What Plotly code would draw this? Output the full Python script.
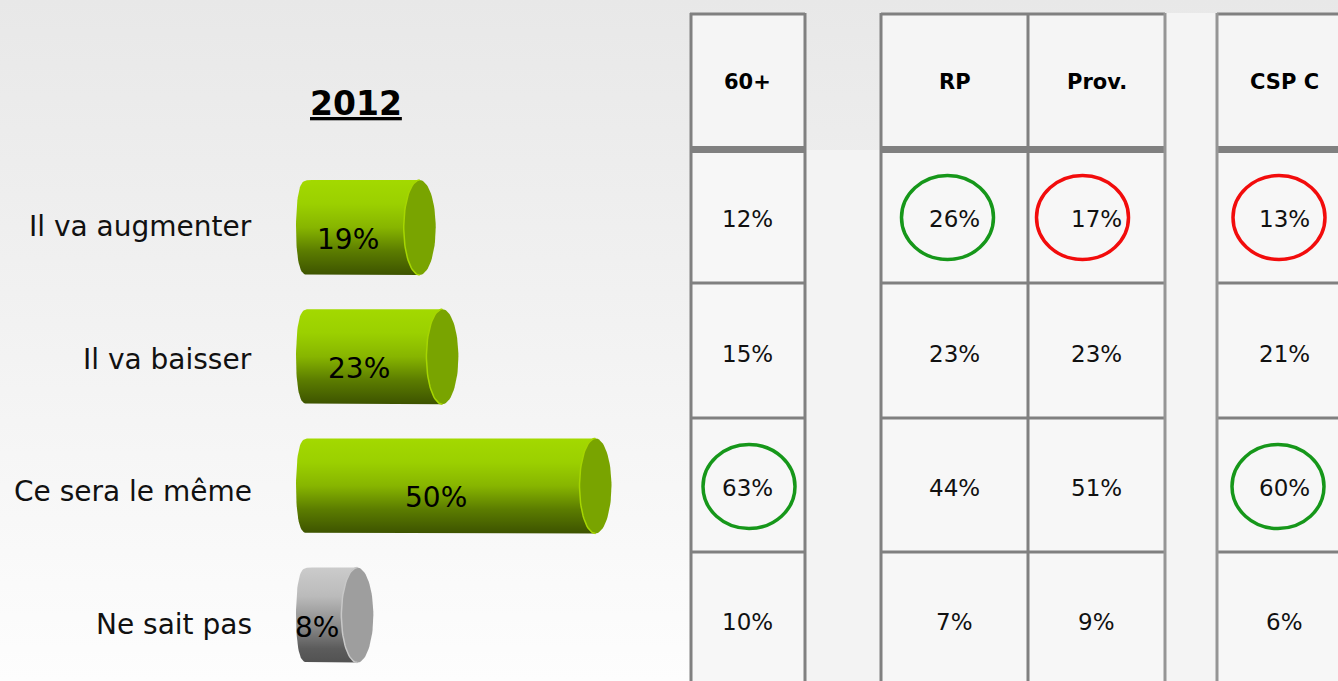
import numpy as np
import plotly.graph_objects as go

W, H = 1338, 681

# ---------------- data ----------------
title_text = "2012"
categories = ["Il va augmenter", "Il va baisser", "Ce sera le même", "Ne sait pas"]
values_2012 = [19, 23, 50, 8]
bar_style = ["green", "green", "green", "gray"]

col_headers = ["60+", "RP", "Prov.", "CSP C"]
vals_60plus = [12, 15, 63, 10]
vals_rp = [26, 23, 44, 7]
vals_prov = [17, 23, 51, 9]
vals_cspc = [13, 21, 60, 6]
# circled cells: (column index, row index, colour)
circled = [(1, 0, "green"), (2, 0, "red"), (3, 0, "red"), (0, 2, "green"), (3, 2, "green")]

table_cols = [vals_60plus, vals_rp, vals_prov, vals_cspc]

# ---------------- layout helpers ----------------
PX_PER_PCT = 5.67
X0_PX = 312.0
ROW0_PX = 227.5
ROW_STEP = 129.2
A = 16.0 / PX_PER_PCT          # cylinder end semi-axis (in % units)
HH = 47.5 / ROW_STEP           # cylinder half height (in row units)

def X(px):
    return px / W

def Y(py):
    return 1 - py / H

fig = go.Figure()

# background gradient (pixel axes x/y)
fig.add_trace(go.Scatter(
    x=[0, W, W, 0, 0], y=[0, 0, H, H, 0], mode="lines", line=dict(width=0),
    fill="toself",
    fillgradient=dict(type="vertical", colorscale=[[0, "#e8e8e8"], [1, "#fdfdfd"]], start=0, stop=H),
    hoverinfo="skip", xaxis="x", yaxis="y"))

styles = {
    "green": dict(body=[[0, "#a3d900"], [0.25, "#9bd000"], [0.5, "#87b500"], [0.75, "#5b7c00"], [1, "#3d5300"]],
                  cap="#79a400", rim="#a6d600"),
    "gray": dict(body=[[0, "#cbcbcb"], [0.3, "#bbbbbb"], [0.6, "#8c8c8c"], [0.85, "#5c5c5c"], [1, "#525252"]],
                 cap="#9e9e9e", rim="#c8c8c8"),
}

phi = np.linspace(0, np.pi, 40)
tt = np.linspace(0, 2 * np.pi, 80)
th = np.linspace(np.pi / 2, 3 * np.pi / 2, 40)
for i, (v, s) in enumerate(zip(values_2012, bar_style)):
    st = styles[s]
    bx = [0, v, v, 0] + list(-A * np.sin(phi) ** 0.45)
    by = [i - HH, i - HH, i + HH, i + HH] + list(i + HH * np.cos(phi))
    fig.add_trace(go.Scatter(
        x=bx, y=by, mode="lines", line=dict(width=0), fill="toself",
        fillgradient=dict(type="vertical", colorscale=st["body"], start=i - HH, stop=i + HH),
        hoverinfo="skip", xaxis="x2", yaxis="y2"))
    fig.add_trace(go.Scatter(
        x=v + A * np.cos(tt), y=i + HH * np.sin(tt), mode="lines", line=dict(width=0),
        fill="toself", fillcolor=st["cap"], hoverinfo="skip", xaxis="x2", yaxis="y2"))
    fig.add_trace(go.Scatter(
        x=v + A * np.cos(th), y=i + HH * np.sin(th), mode="lines",
        line=dict(width=1.5, color=st["rim"]), hoverinfo="skip", xaxis="x2", yaxis="y2"))
    fig.add_annotation(x=v / 2, y=i, xref="x2", yref="y2", text=f"{v}%", showarrow=False,
                       xanchor="center", yanchor="middle", xshift=-18, yshift=-12,
                       font=dict(family="DejaVu Sans", size=28, color="#000000"))

# category labels
for i, c in enumerate(categories):
    fig.add_annotation(x=X(254), y=Y(227 + 132.5 * i), xref="paper", yref="paper", text=c,
                       showarrow=False, xanchor="right", yanchor="middle",
                       font=dict(family="DejaVu Sans", size=28, color="#111111"))

# title
fig.add_annotation(x=X(356.5), y=Y(104), xref="paper", yref="paper",
                   text=f"<b><u>{title_text}</u></b>", showarrow=False,
                   xanchor="center", yanchor="middle",
                   font=dict(family="DejaVu Sans", size=33, color="#000000"))

# ---------------- table ----------------
col_x = [(690, 805), (881, 1028), (1028, 1165), (1217, 1352)]
groups = [(690, 805), (881, 1165), (1217, 1352)]
row_edges = [13, 149, 283, 418, 552, 690]
shapes = []

def rect(x0, y0, x1, y1, fill):
    shapes.append(dict(type="rect", xref="paper", yref="paper", x0=X(x0), x1=X(x1), y0=Y(y0), y1=Y(y1),
                       fillcolor=fill, line=dict(width=0), layer="above"))

def line(x0, y0, x1, y1, color="#808080", w=3):
    shapes.append(dict(type="line", xref="paper", yref="paper", x0=X(x0), x1=X(x1), y0=Y(y0), y1=Y(y1),
                       line=dict(color=color, width=w), layer="above"))

# light gap areas
rect(805, 150, 881, H + 5, "#f3f3f3")
rect(1165, 13, 1217, H + 5, "#f4f4f4")
# cells
for (x0, x1) in col_x:
    rect(x0, 13, x1, 149, "#f5f5f5")
    rect(x0, 149, x1, H + 5, "#f7f7f7")
# borders
for (x0, x1) in groups:
    line(x0, 14, x1, 14)
    rect(x0, 146, x1, 153, "#808080")
    for yb in row_edges[2:5]:
        line(x0, yb, x1, yb)
for xv in [691, 805, 881, 1028]:
    line(xv, 13, xv, H + 5)
for xv in [1165, 1217]:
    line(xv, 13, xv, H + 5, color="#959595", w=3)

# header text
for (x0, x1), hname in zip(col_x, col_headers):
    fig.add_annotation(x=X((x0 + x1) / 2), y=Y(82), xref="paper", yref="paper",
                       text=f"<b>{hname}</b>", showarrow=False,
                       xanchor="center", yanchor="middle",
                       font=dict(family="DejaVu Sans", size=21, color="#000000"))
# values
for (x0, x1), colvals in zip(col_x, table_cols):
    for r, v in enumerate(colvals):
        yc = (row_edges[r + 1] + row_edges[r + 2]) / 2 if r < 3 else 619
        fig.add_annotation(x=X((x0 + x1) / 2), y=Y(yc + 3), xref="paper", yref="paper",
                           text=f"{v}%", showarrow=False,
                           xanchor="center", yanchor="middle",
                           font=dict(family="DejaVu Sans", size=23, color="#111111"))

circle_dx = {(1, 0): -7, (2, 0): -14, (3, 0): -5.5, (0, 2): 1.5, (3, 2): -6.5}
colors = {"green": "#16971a", "red": "#f20c0c"}
for (ci, ri, col) in circled:
    x0, x1 = col_x[ci]
    cx = (x0 + x1) / 2 + circle_dx[(ci, ri)]
    cy = (row_edges[ri + 1] + row_edges[ri + 2]) / 2 + 1.5
    shapes.append(dict(type="circle", xref="paper", yref="paper",
                       x0=X(cx - 46), x1=X(cx + 46), y0=Y(cy - 42), y1=Y(cy + 42),
                       line=dict(color=colors[col], width=3.5), layer="above"))

fig.update_layout(
    width=W, height=H, margin=dict(l=0, r=0, t=0, b=0),
    paper_bgcolor="#f4f4f4", plot_bgcolor="rgba(0,0,0,0)", showlegend=False,
    xaxis=dict(range=[0, W], visible=False, domain=[0, 1]),
    yaxis=dict(range=[H, 0], visible=False, domain=[0, 1]),
    xaxis2=dict(range=[-X0_PX / PX_PER_PCT, (W - X0_PX) / PX_PER_PCT], visible=False,
                overlaying="x", anchor="y2"),
    yaxis2=dict(range=[(H - ROW0_PX) / ROW_STEP, -ROW0_PX / ROW_STEP], visible=False,
                overlaying="y", anchor="x2"),
    shapes=shapes,
)

fig.write_html("out.html", config={"displayModeBar": False},
               post_script="document.body.style.margin='0px';document.body.style.overflow='hidden';")
